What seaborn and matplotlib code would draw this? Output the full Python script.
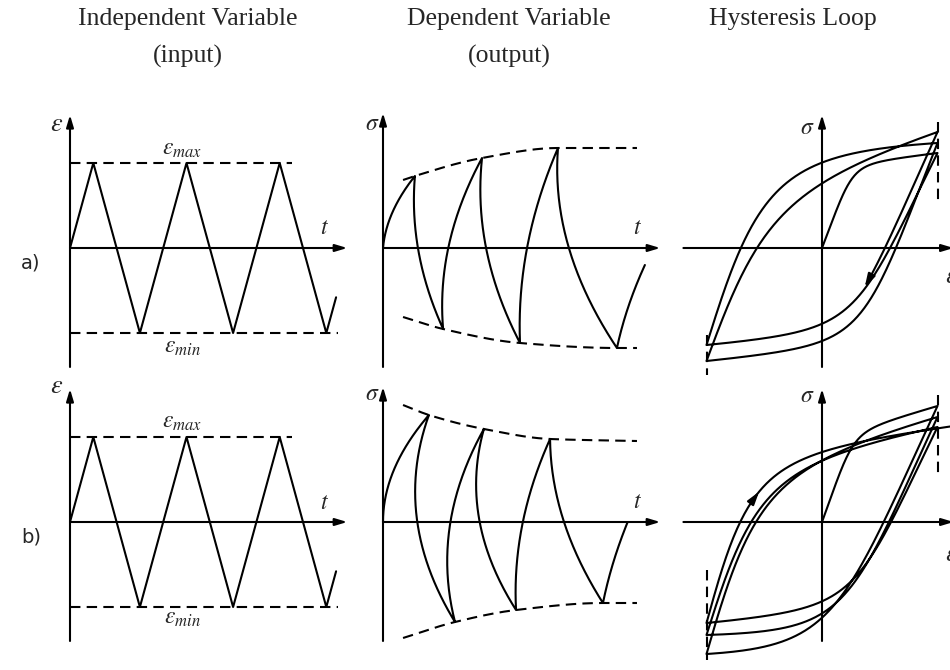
import numpy as np
import matplotlib
matplotlib.use("Agg")
import matplotlib.pyplot as plt
import seaborn as sns

sns.set_theme(style="white")
plt.rcParams["font.family"] = ["Liberation Serif", "DejaVu Serif"]
plt.rcParams["mathtext.fontset"] = "stix"

# ------------------------------------------------------------------ data
title_lines = [["Independent Variable", "(input)"],
               ["Dependent Variable", "(output)"],
               ["Hysteresis Loop"]]
row_labels = ["a)", "b)"]

# strain history: time in quarter cycles, strain in units of the amplitude
strain_t = [0, 1, 3, 5, 7, 9, 11, 11.42]
strain_e = [0, 1, -1, 1, -1, 1, -1, -0.58]
strain_max_end = 9.53
strain_min_end = 11.5

# stress response (a: cyclic hardening, b: cyclic softening)
hard_t = [0, 1.37, 2.58, 4.25, 5.88, 7.51, 10.04, 11.24]
hard_s = [0, 0.72, -0.81, 0.90, -0.95, 1.00, -1.00, -0.17]
hard_env_hi_t = [0.86, 1.37, 4.25, 7.51, 10.9]
hard_env_hi_s = [0.68, 0.72, 0.90, 1.00, 1.00]
hard_env_lo_t = [0.86, 2.58, 5.88, 10.04, 10.9]
hard_env_lo_s = [-0.69, -0.81, -0.95, -1.00, -1.00]

soft_t = [0, 1.97, 3.09, 4.33, 5.71, 7.17, 9.44, 10.5]
soft_s = [0, 1.07, -1.00, 0.93, -0.88, 0.83, -0.81, 0.0]
soft_env_hi_t = [0.86, 1.97, 4.33, 7.17, 10.9]
soft_env_hi_s = [1.17, 1.07, 0.93, 0.83, 0.81]
soft_env_lo_t = [0.86, 3.09, 5.71, 9.44, 10.9]
soft_env_lo_s = [-1.16, -1.00, -0.88, -0.81, -0.81]

# hysteresis reversal points (strain, stress)
loop_hard_e = [0, 1, -1, 1, -1, 1, -1]
loop_hard_s = [0, 0.95, -0.97, 1.05, -1.13, 1.16, -1.30]
loop_hard_stop = 0.37          # strain where the last branch ends in an arrow
loop_soft_e = [0, 1, -1, 1, -1, 1, -1, 1.11]
loop_soft_s = [0, 1.16, -1.32, 1.05, -1.13, 0.95, -1.01, 0.955]
loop_soft_arrow = 0.30         # stress where the direction arrow sits

# ------------------------------------------------------------ curve styles
hard_bow = [0.8, 1.46, 1.37, 1.52, 1.21, 1.26, 0.36]
soft_bow = [1.0, 3.85, 2.71, 2.58, 1.26, 0.97, 0.33]
# (k, n, w) of each loading / reversal branch
hard_shape = [(3.6, 4, 0.85), (2.6, 4, 0.9), (3.5, 2, 1.0), (2.9, 4, 0.9),
              (3.3, 2, 0.7), (2.2, 4, 0.9)]
soft_shape = [(3.5, 4, 0.71), (2.0, 4, 1.0), (4.0, 2, 0.75), (2.3, 4, 1.0),
              (4.0, 2, 0.8), (2.6, 4, 0.9), (5.0, 2, 0.85)]

LW = 1.5
DASH = (0, (5, 3))
W, H = 950, 670

fig = plt.figure(figsize=(W / 100, H / 100), dpi=100)
fig.patch.set_facecolor("white")


def panel(origin, sx, sy, left, right, top, bottom):
    ox, oy = origin
    ax = fig.add_axes([left / W, 1 - bottom / H, (right - left) / W, (bottom - top) / H])
    ax.set_xlim((left - ox) / sx, (right - ox) / sx)
    ax.set_ylim((oy - bottom) / sy, (oy - top) / sy)
    ax.axis("off")
    return ax


def arrow(ax, x0, y0, x1, y1, ms=12):
    ax.annotate("", xy=(x1, y1), xytext=(x0, y0), annotation_clip=False,
                arrowprops=dict(arrowstyle="-|>,head_length=0.6,head_width=0.18",
                                lw=LW, color="black", shrinkA=0, shrinkB=0,
                                mutation_scale=ms))


def line(ax, x, y, **kw):
    sns.lineplot(x=np.asarray(x), y=np.asarray(y), sort=False, estimator=None,
                 color="black", lw=LW, ax=ax, legend=False, **kw)


def smooth_through(xk, yk, num=200):
    xk = np.asarray(xk, float)
    yk = np.asarray(yk, float)
    h = np.diff(xk)
    d = np.diff(yk) / h
    m = np.zeros_like(yk)
    m[0], m[-1] = d[0], d[-1]
    for i in range(1, len(xk) - 1):
        if d[i - 1] * d[i] <= 0:
            m[i] = 0.0
        else:
            w1, w2 = 2 * h[i] + h[i - 1], h[i] + 2 * h[i - 1]
            m[i] = (w1 + w2) / (w1 / d[i - 1] + w2 / d[i])
    x = np.linspace(xk[0], xk[-1], num)
    idx = np.clip(np.searchsorted(xk, x) - 1, 0, len(h) - 1)
    t = (x - xk[idx]) / h[idx]
    h00 = 2 * t**3 - 3 * t**2 + 1
    h10 = t**3 - 2 * t**2 + t
    h01 = -2 * t**3 + 3 * t**2
    h11 = t**3 - t**2
    y = h00 * yk[idx] + h10 * h[idx] * m[idx] + h01 * yk[idx + 1] + h11 * h[idx] * m[idx + 1]
    return x, y


def response_path(ts, ss, bows, num=120):
    xs, ys = [], []
    for i in range(len(ts) - 1):
        s = np.linspace(0, 1, num)
        b = bows[i]
        xs.append(ts[i] + (ts[i + 1] - ts[i]) * (s + b * s * (s - 1)))
        ys.append(ss[i] + (ss[i + 1] - ss[i]) * s)
    return np.concatenate(xs), np.concatenate(ys)


def branch(e0, s0, e1, s1, k, n, w, e_stop=None, num=200):
    u_end = 1.0 if e_stop is None else (e_stop - e0) / (e1 - e0)
    u = np.linspace(0, u_end, num)
    f = lambda x: k * x / (1 + (k * x) ** n) ** (1 / n)
    g = w * f(u) / f(1.0) + (1 - w) * u
    return e0 + (e1 - e0) * u, s0 + (s1 - s0) * g


def loop_path(es, ss, shapes, e_stop=None):
    xs, ys = [], []
    nb = len(es) - 1
    for i in range(nb):
        k, n, w = shapes[i]
        stop = e_stop if (i == nb - 1) else None
        x, y = branch(es[i], ss[i], es[i + 1], ss[i + 1], k, n, w, e_stop=stop)
        xs.append(x)
        ys.append(y)
    return np.concatenate(xs), np.concatenate(ys)


# ------------------------------------------------------------- titles
for cx, lines in zip([188, 509, 793], title_lines):
    for j, txt in enumerate(lines):
        fig.text(cx / W, 1 - (19 + 37 * j) / H, txt, ha="center", va="center",
                 fontsize=18.5)

row_y = [248, 522]
for lab, oy in zip(row_labels, row_y):
    fig.text(31 / W, 1 - (oy + 15) / H, lab, ha="center", va="center",
             fontsize=14, family="DejaVu Sans")

eps_lab = [(1.45, 1.153, -1.176, 0.235), (1.59, 1.165, -1.14, 0.22)]
sig_lab = [(1.23, 0.2), (1.27, 0.2)]
rsig_lab = [(1.20, -0.29), (1.25, -0.33)]
resp = [(hard_t, hard_s, hard_bow, hard_env_hi_t, hard_env_hi_s, hard_env_lo_t, hard_env_lo_s),
        (soft_t, soft_s, soft_bow, soft_env_hi_t, soft_env_hi_s, soft_env_lo_t, soft_env_lo_s)]

for r, oy in enumerate(row_y):
    # ---------------- strain input
    ax = panel((70, oy), 23.3, 85, 40, 360, oy - 145, oy + 130)
    arrow(ax, 0, -1.40, 0, 1.565)
    arrow(ax, 0, 0, 11.9, 0)
    line(ax, strain_t, strain_e)
    line(ax, [0, strain_max_end], [1, 1], linestyle=DASH)
    line(ax, [0, strain_min_end], [-1, -1], linestyle=DASH)
    ey, emx, emn, ty = eps_lab[r]
    ax.text(-0.56, ey, r"$\varepsilon$", ha="center", va="center", fontsize=19)
    ax.text(4.81, emx, r"$\varepsilon_{max}$", ha="center", va="center", fontsize=17)
    ax.text(4.81, emn, r"$\varepsilon_{min}$", ha="center", va="center", fontsize=17)
    ax.text(10.94, ty, r"$t$", ha="center", va="center", fontsize=17)

    # ---------------- stress output
    ts, ss, bows, hit, his, lot, los = resp[r]
    ax = panel((383, oy), 23.3, 100, 355, 670, oy - 145, oy + 130)
    arrow(ax, 0, -1.19, 0, 1.35)
    arrow(ax, 0, 0, 11.9, 0)
    x, y = response_path(ts, ss, bows)
    line(ax, x, y)
    x, y = smooth_through(hit, his)
    line(ax, x, y, linestyle=DASH)
    x, y = smooth_through(lot, los)
    line(ax, x, y, linestyle=DASH)
    sy_, tty = sig_lab[r]
    ax.text(-0.47, sy_, r"$\sigma$", ha="center", va="center", fontsize=17)
    ax.text(10.94, tty, r"$t$", ha="center", va="center", fontsize=17)

    # ---------------- hysteresis loop
    ax = panel((822, oy), 115.5, 100, 680, 950, oy - 145, oy + 150)
    arrow(ax, 0, -1.19, 0, 1.33)
    arrow(ax, -1.20, 0, 1.14, 0)
    if r == 0:
        x, y = loop_path(loop_hard_e, loop_hard_s, hard_shape, e_stop=loop_hard_stop)
        line(ax, x[:-8], y[:-8])
        arrow(ax, x[-12], y[-12], x[-1], y[-1], ms=13)
        line(ax, [1, 1], [1.26, 0.48], linestyle=DASH)
        line(ax, [-1, -1], [-0.87, -1.27], linestyle=DASH)
    else:
        x, y = loop_path(loop_soft_e, loop_soft_s, soft_shape)
        line(ax, x, y)
        n_last = 200
        xl, yl = x[-n_last:], y[-n_last:]
        j = int(np.argmin(np.abs(yl - loop_soft_arrow)))
        arrow(ax, xl[j - 6], yl[j - 6], xl[j], yl[j], ms=13)
        line(ax, [1, 1], [1.27, 0.49], linestyle=DASH)
        line(ax, [-1, -1], [-0.48, -1.38], linestyle=DASH)
    rs, re_ = rsig_lab[r]
    ax.text(-0.13, rs, r"$\sigma$", ha="center", va="center", fontsize=17)
    ax.text(1.065, re_, r"$\varepsilon$", ha="left", va="center", fontsize=19)

fig.savefig("out.png", dpi=100, facecolor="white")
